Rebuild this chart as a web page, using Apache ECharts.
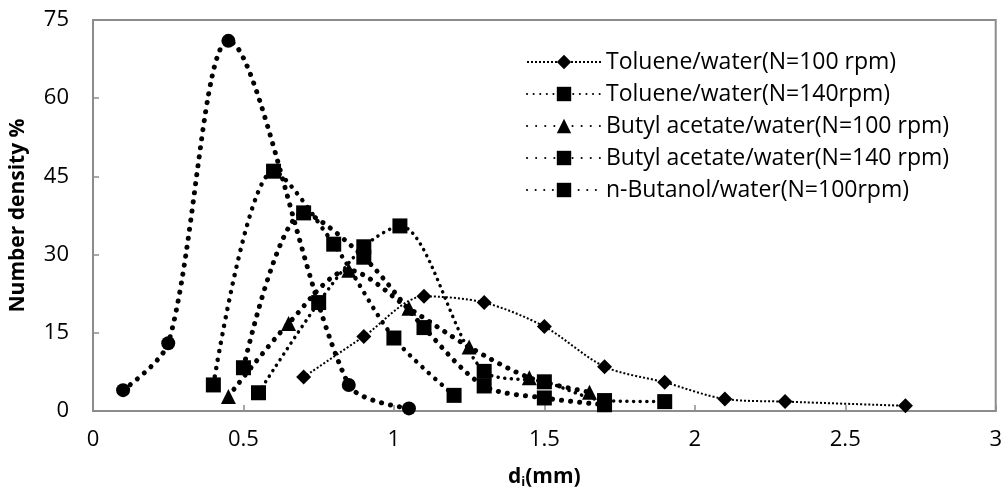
<!DOCTYPE html>
<html>
<head>
<meta charset="utf-8">
<script src="https://cdn.jsdelivr.net/npm/echarts@6/dist/echarts.min.js"></script>
<style>
  html, body { margin: 0; padding: 0; background: #fff; }
  #chart { width: 1005px; height: 494px; }
</style>
</head>
<body>
<div id="chart"></div>
<script>
// Drop size (mm) on the x axis, number density (%) on the y axis
const xTicks = [0, 0.5, 1, 1.5, 2, 2.5, 3];
const yTicks = [0, 15, 30, 45, 60, 75];

const toluene100X = [0.7, 0.9, 1.1, 1.3, 1.5, 1.7, 1.9, 2.1, 2.3, 2.7];
const toluene100Y = [6.5, 14.3, 22.0, 20.8, 16.2, 8.5, 5.5, 2.3, 1.8, 1.0];

const toluene140X = [0.55, 0.75, 0.9, 1.02, 1.3, 1.5, 1.7, 1.9];
const toluene140Y = [3.5, 20.8, 31.5, 35.5, 7.6, 5.6, 2.0, 1.8];

const butyl100X = [0.45, 0.65, 0.85, 1.05, 1.25, 1.45, 1.65];
const butyl100Y = [2.8, 16.8, 27.0, 19.7, 12.3, 6.4, 3.6];

const butyl140X = [0.5, 0.7, 0.9, 1.1, 1.3, 1.5, 1.7];
const butyl140Y = [8.3, 38.0, 29.5, 16.0, 4.8, 2.5, 1.2];

const butanol100X = [0.4, 0.6, 0.8, 1.0, 1.2];
const butanol100Y = [5.0, 46.0, 32.0, 14.0, 3.0];

const series6X = [0.1, 0.25, 0.45, 0.85, 1.05];
const series6Y = [4.0, 13.0, 71.0, 5.0, 0.5];

const names = [
  'Toluene/water(N=100 rpm)',
  'Toluene/water(N=140rpm)',
  'Butyl acetate/water(N=100 rpm)',
  'Butyl acetate/water(N=140 rpm)',
  'n-Butanol/water(N=100rpm)'
];

const FONT = 'Open Sans';
const pairs = (xs, ys) => xs.map((x, i) => [x, ys[i]]);

function curve(name, xs, ys, symbol, symbolSize, line) {
  return {
    name: name,
    type: 'line',
    data: pairs(xs, ys),
    smooth: 0.3,
    symbol: symbol,
    symbolSize: symbolSize,
    showSymbol: true,
    itemStyle: { color: '#000', borderWidth: 0 },
    lineStyle: Object.assign({ color: '#000' }, line),
    emphasis: { disabled: true },
    animation: false
  };
}

const roundDots = (w, gap) => ({ width: w, type: [0.1, gap], cap: 'round' });

const chart = echarts.init(document.getElementById('chart'), null, { renderer: 'canvas' });
chart.setOption({
  backgroundColor: '#fff',
  animation: false,
  grid: {
    left: 91, right: 8, top: 20, bottom: 81,
    show: true, borderColor: '#8c8c8c', borderWidth: 2, backgroundColor: 'transparent'
  },
  legend: {
    data: names,
    orient: 'vertical',
    left: 521, top: 42,
    itemWidth: 74, itemHeight: 18, itemGap: 2,
    textStyle: { fontFamily: FONT, fontSize: 23, color: '#000', lineHeight: 30 }
  },
  xAxis: {
    type: 'value',
    min: xTicks[0], max: xTicks[xTicks.length - 1], interval: xTicks[1] - xTicks[0],
    splitLine: { show: false },
    axisLine: { show: true, lineStyle: { color: '#8c8c8c', width: 2 } },
    axisTick: { show: true, inside: true, length: 6, lineStyle: { color: '#8c8c8c', width: 1.5 } },
    axisLabel: { fontFamily: FONT, fontSize: 22, color: '#000', margin: 18 },
    name: '{b|d}{s|i}{b|(mm)}',
    nameLocation: 'middle', nameGap: 55,
    nameTextStyle: {
      rich: {
        b: { fontFamily: FONT, fontSize: 21, fontWeight: 'bold', color: '#000' },
        s: { fontFamily: FONT, fontSize: 13, fontWeight: 'bold', color: '#000', verticalAlign: 'bottom', padding: [10, 0, 0, 0] }
      }
    }
  },
  yAxis: {
    type: 'value',
    min: yTicks[0], max: yTicks[yTicks.length - 1], interval: yTicks[1] - yTicks[0],
    splitLine: { show: false },
    axisLine: { show: true, lineStyle: { color: '#8c8c8c', width: 2 } },
    axisTick: { show: true, inside: true, length: 6, lineStyle: { color: '#8c8c8c', width: 1.5 } },
    axisLabel: { fontFamily: FONT, fontSize: 22, color: '#000', margin: 24 },
    name: 'Number density %',
    nameLocation: 'middle', nameGap: 64,
    nameTextStyle: { fontFamily: FONT, fontSize: 21, fontWeight: 'bold', color: '#000' }
  },
  series: [
    curve('Series6', series6X, series6Y, 'circle', 14, roundDots(5, 9)),
    curve(names[4], butanol100X, butanol100Y, 'rect', 15, roundDots(4.5, 8.5)),
    curve(names[3], butyl140X, butyl140Y, 'rect', 15, roundDots(5, 9)),
    curve(names[2], butyl100X, butyl100Y, 'triangle', 15, roundDots(5, 9)),
    curve(names[1], toluene140X, toluene140Y, 'rect', 15, roundDots(3.5, 6.5)),
    curve(names[0], toluene100X, toluene100Y, 'diamond', 15, { width: 2, type: [2, 2], cap: 'butt' })
  ]
});
</script>
</body>
</html>
